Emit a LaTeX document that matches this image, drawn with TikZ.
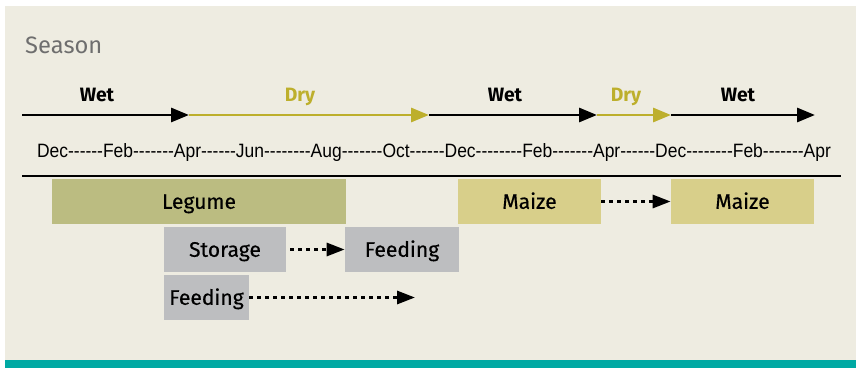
\documentclass[tikz,border=0pt]{standalone}
\usepackage{fontspec}
\usepackage{graphicx}
\setmainfont{Fira Sans}
\newfontfamily\monthfont{Liberation Sans}
\newfontfamily\cropfont{Fira Sans}[FakeBold=0.4]
\usetikzlibrary{arrows.meta}
\definecolor{bgpaper}{HTML}{EEECE1}
\definecolor{teal2}{HTML}{00A9A3}
\definecolor{dryol}{HTML}{BDAF2C}
\definecolor{legcol}{HTML}{BBBC81}
\definecolor{maizecol}{HTML}{D8CF8A}
\definecolor{storecol}{HTML}{BDBEC0}
\definecolor{seasongray}{HTML}{6E6E6E}
\newcommand{\hy}[1]{\foreach \k in {1,...,#1}{-}}

\begin{document}
\begin{tikzpicture}[x=0.02cm,y=-0.02cm,
  crop/.style={inner sep=0pt,minimum height=0.9cm,text height=8.3pt,text depth=0pt,font=\cropfont\fontsize{12}{14}\selectfont},
  seas/.style={line width=1.7pt,-{Triangle[length=0.36cm,width=0.28cm]}},
  dots/.style={line width=1.7pt,dash pattern=on 0.08cm off 0.08cm,-{Triangle[length=0.36cm,width=0.26cm]}},
  lab/.style={inner sep=0pt,text height=7.6pt,text depth=0pt,font=\fontsize{11}{13}\selectfont\bfseries}]
\useasboundingbox (0,0) rectangle (856,368);
\fill[bgpaper] (5,6) rectangle (856,360);
\fill[teal2] (5,360) rectangle (856,368);
\node[anchor=west,text=seasongray,font=\fontsize{13.5}{15}\selectfont] (season) at (19,45) {Season};
\coordinate (t0) at (22,115);
\coordinate (t1) at (189,115);
\coordinate (t2) at (429,115);
\coordinate (t3) at (597,115);
\coordinate (t4) at (671,115);
\coordinate (t5) at (815,115);
\draw[seas] (t0) -- (t1);
\draw[seas,dryol] (t1) -- (t2);
\draw[seas] (t2) -- (t3);
\draw[seas,dryol] (t3) -- (t4);
\draw[seas] (t4) -- (t5);
\node[lab] (w1) at (97,94.5) {Wet};
\node[lab,text=dryol] (d1) at (300,94.5) {Dry};
\node[lab] (w2) at (505,94.5) {Wet};
\node[lab,text=dryol] (d2) at (626,94.5) {Dry};
\node[lab] (w3) at (738,94.5) {Wet};
\node[inner sep=0pt] (months) at (434,153) {\resizebox{15.88cm}{\height}{\monthfont\fontsize{11}{13}\selectfont
  Dec\hy6Feb\hy7Apr\hy6Jun\hy8Aug\hy7Oct\hy6Dec\hy8Feb\hy7Apr\hy6Dec\hy8Feb\hy7Apr}};
\coordinate (b0) at (22,176);
\coordinate (b1) at (841,176);
\draw[line width=1.7pt] (b0) -- (b1);
\node[crop,fill=legcol,minimum width=5.88cm] (legume) at (199,201.5) {Legume};
\node[crop,fill=maizecol,minimum width=2.86cm] (maize1) at (529.5,201.5) {Maize};
\node[crop,fill=maizecol,minimum width=2.86cm] (maize2) at (742.5,201.5) {Maize};
\node[crop,fill=storecol,minimum width=2.44cm] (storage) at (225,249.5) {Storage};
\node[crop,fill=storecol,minimum width=2.28cm] (feed1) at (402,249.5) {Feeding};
\node[crop,fill=storecol,minimum width=1.7cm] (feed2) at (206.5,297.5) {Feeding};
\coordinate (feedend) at (415,297.5);
\draw[dots] ([xshift=0.08cm]storage.east) -- (feed1.west);
\draw[dots] (maize1.east) -- (maize2.west);
\draw[dots] (feed2.east) -- (feedend);
\end{tikzpicture}
\end{document}
